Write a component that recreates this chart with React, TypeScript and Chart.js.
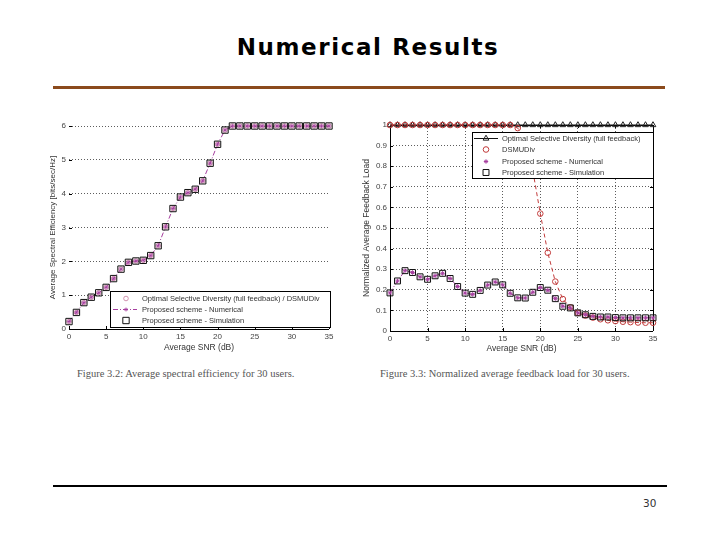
import React, { useEffect, useRef } from 'react';
import { Chart, registerables } from 'chart.js';
import { drawPoint } from 'chart.js/helpers';

Chart.register(...registerables);

// ---------- data ----------
const snrDb = [0, 1, 2, 3, 4, 5, 6, 7, 8, 9, 10, 11, 12, 13, 14, 15, 16, 17, 18, 19, 20, 21, 22, 23, 24, 25, 26, 27, 28, 29, 30, 31, 32, 33, 34, 35];
const xTickValues = [0, 5, 10, 15, 20, 25, 30, 35];
const leftYTickLabels = ['0', '1', '2', '3', '4', '5', '6'];
const rightYTickLabels = ['0', '0.1', '0.2', '0.3', '0.4', '0.5', '0.6', '0.7', '0.8', '0.9', '1'];

// Figure 3.2 : average spectral efficiency
const seOptimalDSMUDiv = [0.22, 0.49, 0.78, 0.94, 1.07, 1.23, 1.49, 1.77, 1.97, 2.01, 2.03, 2.17, 2.46, 3.02, 3.56, 3.9, 4.03, 4.13, 4.38, 4.9, 5.46, 5.88, 6, 6, 6, 6, 6, 6, 6, 6, 6, 6, 6, 6, 6, 6];
const seNumerical = [0.22, 0.49, 0.78, 0.94, 1.07, 1.23, 1.49, 1.77, 1.97, 2.01, 2.03, 2.17, 2.46, 3.02, 3.56, 3.9, 4.03, 4.13, 4.38, 4.9, 5.46, 5.88, 6, 6, 6, 6, 6, 6, 6, 6, 6, 6, 6, 6, 6, 6];
const seSimulation = [0.22, 0.49, 0.78, 0.94, 1.07, 1.23, 1.49, 1.77, 1.97, 2.01, 2.03, 2.17, 2.46, 3.02, 3.56, 3.9, 4.03, 4.13, 4.38, 4.9, 5.46, 5.88, 6, 6, 6, 6, 6, 6, 6, 6, 6, 6, 6, 6, 6, 6];

// Figure 3.3 : normalized average feedback load
const loadOptimal = [1, 1, 1, 1, 1, 1, 1, 1, 1, 1, 1, 1, 1, 1, 1, 1, 1, 1, 1, 1, 1, 1, 1, 1, 1, 1, 1, 1, 1, 1, 1, 1, 1, 1, 1, 1];
const loadDSMUDiv = [1, 1, 1, 1, 1, 1, 1, 1, 1, 1, 1, 1, 1, 1, 1, 1, 1, 0.985, 0.93, 0.78, 0.57, 0.38, 0.24, 0.155, 0.115, 0.088, 0.075, 0.065, 0.057, 0.052, 0.048, 0.045, 0.043, 0.041, 0.04, 0.04];
const loadNumerical = [0.185, 0.243, 0.293, 0.284, 0.263, 0.251, 0.268, 0.28, 0.255, 0.216, 0.184, 0.178, 0.197, 0.223, 0.238, 0.224, 0.183, 0.161, 0.16, 0.188, 0.211, 0.198, 0.157, 0.12, 0.112, 0.088, 0.079, 0.071, 0.068, 0.068, 0.065, 0.064, 0.064, 0.064, 0.064, 0.064];
const loadSimulation = [0.185, 0.243, 0.293, 0.284, 0.263, 0.251, 0.268, 0.28, 0.255, 0.216, 0.184, 0.178, 0.197, 0.223, 0.238, 0.224, 0.183, 0.161, 0.16, 0.188, 0.211, 0.198, 0.157, 0.12, 0.112, 0.088, 0.079, 0.071, 0.068, 0.068, 0.065, 0.064, 0.064, 0.064, 0.064, 0.064];

const toXY = (ys: number[]) => ys.map((y, i) => ({ x: snrDb[i], y }));

const PURPLE = '#a63f9f';
const RED = '#c23b3b';
const TICK_FONT = { family: 'Liberation Sans', size: 8 };
const TITLE_FONT = { family: 'Liberation Sans', size: 8.5 };

// ---------- plugins ----------
const framePlugin = {
  id: 'frame',
  beforeDatasetsDraw(chart: any, _a: any, opts: any) {
    const { ctx, chartArea: a, scales } = chart;
    const sides: string[] = opts.sides || [];
    const tickSides: string[] = opts.tickSides || [];
    const L = opts.tick || 3;
    ctx.save();
    ctx.strokeStyle = '#000';
    ctx.lineWidth = 1;
    ctx.setLineDash([]);
    ctx.beginPath();
    if (sides.includes('bottom')) { ctx.moveTo(a.left, a.bottom + 0.5); ctx.lineTo(a.right, a.bottom + 0.5); }
    if (sides.includes('top')) { ctx.moveTo(a.left, a.top + 0.5); ctx.lineTo(a.right, a.top + 0.5); }
    if (sides.includes('left')) { ctx.moveTo(a.left + 0.5, a.top); ctx.lineTo(a.left + 0.5, a.bottom); }
    if (sides.includes('right')) { ctx.moveTo(a.right + 0.5, a.top); ctx.lineTo(a.right + 0.5, a.bottom); }
    ctx.stroke();
    ctx.beginPath();
    scales.x.ticks.forEach((t: any) => {
      const px = Math.round(scales.x.getPixelForValue(t.value)) + 0.5;
      if (tickSides.includes('bottom')) { ctx.moveTo(px, a.bottom); ctx.lineTo(px, a.bottom - L); }
      if (tickSides.includes('top')) { ctx.moveTo(px, a.top); ctx.lineTo(px, a.top + L); }
    });
    scales.y.ticks.forEach((t: any) => {
      const py = Math.round(scales.y.getPixelForValue(t.value)) + 0.5;
      if (tickSides.includes('left')) { ctx.moveTo(a.left, py); ctx.lineTo(a.left + L, py); }
      if (tickSides.includes('right')) { ctx.moveTo(a.right, py); ctx.lineTo(a.right - L, py); }
    });
    ctx.stroke();
    ctx.restore();
  },
};

const insideLegend = {
  id: 'insideLegend',
  afterDraw(chart: any, _a: any, opts: any) {
    if (!opts || !opts.items) return;
    const { ctx } = chart;
    const { left, top, width, height, firstRow, rowH, lineX0, lineX1, markX, textX } = opts;
    ctx.save();
    ctx.fillStyle = '#fff';
    ctx.fillRect(left, top, width, height);
    ctx.strokeStyle = '#000';
    ctx.lineWidth = 1;
    ctx.setLineDash([]);
    ctx.strokeRect(left + 0.5, top + 0.5, width, height);
    ctx.font = '7.5px "Liberation Sans"';
    ctx.textBaseline = 'middle';
    opts.items.forEach((it: any, i: number) => {
      const y = Math.round(top + firstRow + i * rowH) + 0.5;
      const ds = chart.data.datasets[it.dataset];
      if (it.line) {
        ctx.save();
        ctx.strokeStyle = ds.borderColor;
        ctx.lineWidth = ds.borderWidth;
        ctx.setLineDash(ds.borderDash || []);
        ctx.beginPath();
        ctx.moveTo(left + lineX0, y);
        ctx.lineTo(left + lineX1, y);
        ctx.stroke();
        ctx.restore();
      }
      ctx.save();
      ctx.strokeStyle = ds.pointBorderColor;
      ctx.fillStyle = ds.pointBackgroundColor;
      ctx.lineWidth = ds.pointBorderWidth;
      ctx.setLineDash([]);
      drawPoint(ctx, { pointStyle: ds.pointStyle, rotation: 0, radius: ds.pointRadius, borderWidth: ds.pointBorderWidth }, left + markX, y);
      ctx.restore();
      ctx.fillStyle = '#333';
      ctx.fillText(it.label, left + textX, y);
    });
    ctx.restore();
  },
};

// ---------- chart configs ----------
function makeXScale(title: string, titlePadBottom: number, height: number, grid: boolean) {
  return {
    type: 'linear',
    min: 0,
    max: 35,
    afterBuildTicks: (s: any) => { s.ticks = xTickValues.map((v) => ({ value: v })); },
    afterFit: (s: any) => { s.height = height; },
    ticks: { font: TICK_FONT, color: '#444', padding: 3, maxRotation: 0, callback: (v: any) => String(v) },
    grid: { display: grid, drawOnChartArea: grid, drawTicks: false, color: '#333', lineWidth: 0.8 },
    border: { display: false, dash: [1, 2] },
    title: { display: true, text: title, font: TITLE_FONT, color: '#333', padding: { top: 0, bottom: titlePadBottom } },
  };
}

const leftConfig: any = {
  type: 'line',
  data: {
    datasets: [
      {
        label: 'Proposed scheme - Simulation',
        data: toXY(seSimulation),
        showLine: false,
        pointStyle: 'rect',
        pointRadius: 4.5,
        pointBorderColor: '#111',
        pointBackgroundColor: 'rgba(0,0,0,0)',
        pointBorderWidth: 1,
        borderColor: '#111',
        borderWidth: 0,
        clip: false,
      },
      {
        label: 'Proposed scheme - Numerical',
        data: toXY(seNumerical),
        borderColor: PURPLE,
        borderWidth: 1,
        borderDash: [5, 2, 1, 2],
        pointStyle: 'star',
        pointRadius: 2,
        pointBorderColor: PURPLE,
        pointBackgroundColor: PURPLE,
        pointBorderWidth: 0.8,
        clip: false,
      },
      {
        label: 'Optimal Selective Diversity (full feedback) / DSMUDiv',
        data: toXY(seOptimalDSMUDiv),
        showLine: false,
        pointStyle: 'circle',
        pointRadius: 2.3,
        pointBorderColor: '#c77a9e',
        pointBackgroundColor: 'rgba(0,0,0,0)',
        pointBorderWidth: 0.8,
        borderColor: '#c77a9e',
        borderWidth: 0,
        clip: false,
      },
    ],
  },
  options: {
    animation: false,
    responsive: false,
    layout: { padding: { left: 0, top: 16, right: 11, bottom: 0 } },
    scales: {
      x: makeXScale('Average SNR (dB)', 7, 31, false),
      y: {
        type: 'linear',
        min: 0,
        max: 6,
        afterBuildTicks: (s: any) => { s.ticks = leftYTickLabels.map((_, i) => ({ value: i })); },
        afterFit: (s: any) => { s.width = 29; },
        ticks: { font: TICK_FONT, color: '#444', padding: 3, callback: (_v: any, i: number) => leftYTickLabels[i] },
        grid: { drawTicks: false, color: (c: any) => (c.tick && c.tick.value === 0 ? 'rgba(0,0,0,0)' : '#333'), lineWidth: 0.8 },
        border: { display: false, dash: [1, 2] },
        title: { display: true, text: 'Average Spectral Efficiency [bits/sec/Hz]', font: { family: 'Liberation Sans', size: 8 }, color: '#333', padding: { top: 8, bottom: 0 } },
      },
    },
    plugins: {
      legend: { display: false },
      tooltip: { enabled: false },
      frame: { sides: ['bottom'], tickSides: ['left', 'bottom'], tick: 3 },
      insideLegend: {
        left: 70,
        top: 181,
        width: 220,
        height: 36,
        firstRow: 7,
        rowH: 11,
        lineX0: 3,
        lineX1: 27,
        markX: 16,
        textX: 32,
        items: [
          { dataset: 2, label: 'Optimal Selective Diversity (full feedback) / DSMUDiv', line: false },
          { dataset: 1, label: 'Proposed scheme - Numerical', line: true },
          { dataset: 0, label: 'Proposed scheme - Simulation', line: false },
        ],
      },
    },
  },
  plugins: [framePlugin, insideLegend],
};

const rightConfig: any = {
  type: 'line',
  data: {
    datasets: [
      {
        label: 'Proposed scheme - Simulation',
        data: toXY(loadSimulation),
        showLine: false,
        pointStyle: 'rect',
        pointRadius: 4.2,
        pointBorderColor: '#111',
        pointBackgroundColor: 'rgba(0,0,0,0)',
        pointBorderWidth: 1,
        borderColor: '#111',
        borderWidth: 0,
        clip: false,
      },
      {
        label: 'Proposed scheme - Numerical',
        data: toXY(loadNumerical),
        borderColor: PURPLE,
        borderWidth: 1,
        borderDash: [5, 2, 1, 2],
        pointStyle: 'star',
        pointRadius: 2.2,
        pointBorderColor: PURPLE,
        pointBackgroundColor: PURPLE,
        pointBorderWidth: 1,
        clip: false,
      },
      {
        label: 'DSMUDiv',
        data: toXY(loadDSMUDiv),
        borderColor: RED,
        borderWidth: 1,
        borderDash: [4, 3],
        pointStyle: 'circle',
        pointRadius: 2.8,
        pointBorderColor: RED,
        pointBackgroundColor: 'rgba(0,0,0,0)',
        pointBorderWidth: 1,
        clip: false,
      },
      {
        label: 'Optimal Selective Diversity (full feedback)',
        data: toXY(loadOptimal),
        borderColor: '#111',
        borderWidth: 1,
        pointStyle: 'triangle',
        pointRadius: 3.3,
        pointBorderColor: '#222',
        pointBackgroundColor: 'rgba(0,0,0,0)',
        pointBorderWidth: 1,
        clip: false,
      },
    ],
  },
  options: {
    animation: false,
    responsive: false,
    layout: { padding: { left: 0, top: 15, right: 12, bottom: 0 } },
    scales: {
      x: makeXScale('Average SNR (dB)', 6, 29, true),
      y: {
        type: 'linear',
        min: 0,
        max: 1,
        afterBuildTicks: (s: any) => { s.ticks = rightYTickLabels.map((_, i) => ({ value: i / 10 })); },
        afterFit: (s: any) => { s.width = 35; },
        ticks: { font: TICK_FONT, color: '#444', padding: 3, callback: (_v: any, i: number) => rightYTickLabels[i] },
        grid: { drawTicks: false, color: '#333', lineWidth: 0.8 },
        border: { display: false, dash: [1, 2] },
        title: { display: true, text: 'Normalized Average Feedback Load', font: TITLE_FONT, color: '#333', padding: { top: 7, bottom: 0 } },
      },
    },
    plugins: {
      legend: { display: false },
      tooltip: { enabled: false },
      frame: { sides: ['bottom', 'top', 'left', 'right'], tickSides: ['left', 'bottom', 'right', 'top'], tick: 3 },
      insideLegend: {
        left: 117,
        top: 22,
        width: 181,
        height: 46,
        firstRow: 6,
        rowH: 11.3,
        lineX0: 2,
        lineX1: 26,
        markX: 14,
        textX: 30,
        items: [
          { dataset: 3, label: 'Optimal Selective Diversity (full feedback)', line: true },
          { dataset: 2, label: 'DSMUDiv', line: false },
          { dataset: 1, label: 'Proposed scheme - Numerical', line: false },
          { dataset: 0, label: 'Proposed scheme - Simulation', line: false },
        ],
      },
    },
  },
  plugins: [framePlugin, insideLegend],
};

// ---------- components ----------
function ChartBox({ config, left, top, width, height }: { config: any; left: number; top: number; width: number; height: number }) {
  const ref = useRef<HTMLCanvasElement>(null);
  useEffect(() => {
    if (!ref.current) return;
    const chart = new Chart(ref.current, config);
    return () => chart.destroy();
  }, [config]);
  return (
    <canvas
      ref={ref}
      width={width}
      height={height}
      style={{ position: 'absolute', left, top, width, height }}
    />
  );
}

export default function App() {
  return (
    <div style={{ position: 'absolute', left: 0, top: 0, width: 720, height: 540, background: '#fff', overflow: 'hidden' }}>
      <div
        style={{
          position: 'absolute',
          left: 0,
          top: 36,
          width: 736,
          textAlign: 'center',
          fontFamily: '"DejaVu Sans", sans-serif',
          fontWeight: 'bold',
          fontSize: 23,
          lineHeight: '23px',
          letterSpacing: '1.6px',
          color: '#000',
        }}
      >
        Numerical Results
      </div>
      <div style={{ position: 'absolute', left: 53, top: 86, width: 612, height: 3, background: '#8b4a1c' }} />
      <ChartBox config={leftConfig} left={40} top={110} width={300} height={250} />
      <ChartBox config={rightConfig} left={355} top={110} width={310} height={250} />
      <div style={{ position: 'absolute', left: 77, top: 367, fontFamily: '"Liberation Serif", serif', fontSize: 10.5, lineHeight: '13px', color: '#555', whiteSpace: 'nowrap' }}>
        Figure 3.2: Average spectral efficiency for 30 users.
      </div>
      <div style={{ position: 'absolute', left: 380, top: 367, fontFamily: '"Liberation Serif", serif', fontSize: 10.5, lineHeight: '13px', color: '#555', whiteSpace: 'nowrap' }}>
        Figure 3.3: Normalized average feedback load for 30 users.
      </div>
      <div style={{ position: 'absolute', left: 53, top: 485, width: 614, height: 2, background: '#000' }} />
      <div style={{ position: 'absolute', left: 643, top: 497, fontFamily: '"DejaVu Sans", sans-serif', fontSize: 10.5, lineHeight: '13px', color: '#333' }}>
        30
      </div>
    </div>
  );
}
